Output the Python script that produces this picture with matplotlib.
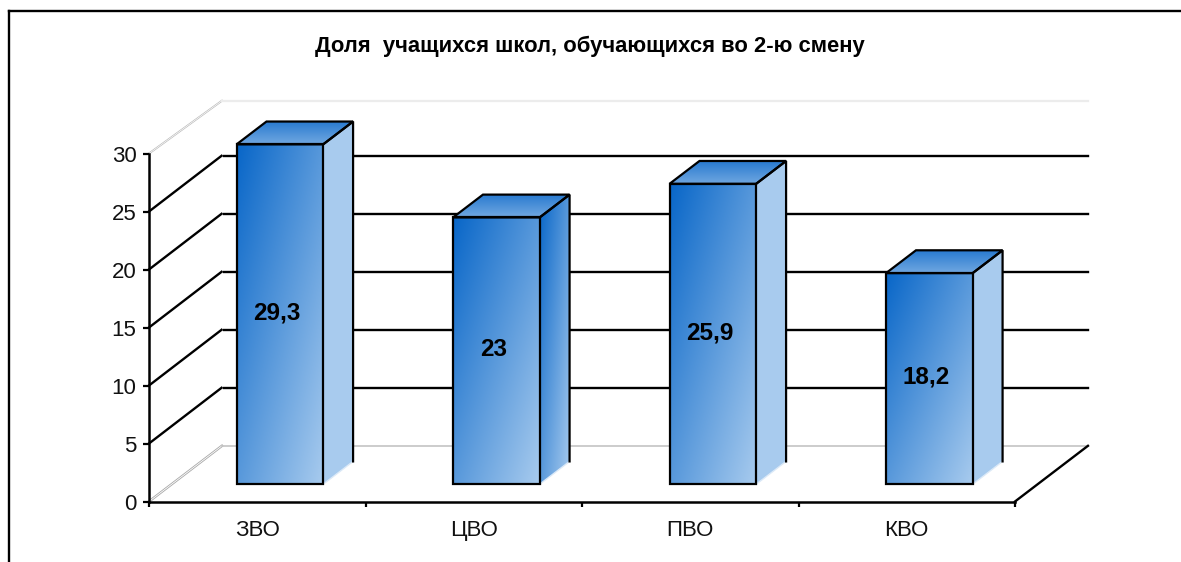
import matplotlib
matplotlib.use("Agg")
import matplotlib.pyplot as plt
import numpy as np
from matplotlib.colors import LinearSegmentedColormap
from matplotlib.lines import Line2D
from matplotlib.patches import Polygon

plt.rcParams["font.family"] = ["Liberation Sans", "DejaVu Sans"]

title = "Доля  учащихся школ, обучающихся во 2-ю смену"
categories = ["ЗВО", "ЦВО", "ПВО", "КВО"]
values = [29.3, 23, 25.9, 18.2]
value_labels = ["29,3", "23", "25,9", "18,2"]
yticks = [0, 5, 10, 15, 20, 25, 30]

# oblique projection: depth 0 is the front plane, depth 1 the back wall
depth_x = 0.337
depth_y = 4.8
bar_d0 = 0.31
bar_d1 = 0.72
bar_x0 = 0.30
bar_x1 = 0.70

blues = LinearSegmentedColormap.from_list("blues", ["#0866c8", "#a8cbee"])
light = "#a8cbee"


def pr(x, y, d):
    return x + d * depth_x, y + d * depth_y


def grad_face(ax, pts, kind, z):
    xs, ys = zip(*pts)
    u, v = np.meshgrid(np.linspace(0, 1, 200), np.linspace(0, 1, 300))
    if kind == "top":
        t = 0.2 + 0.45 * v
    else:
        t = (u + v) / 2
    im = ax.imshow(t, cmap=blues, vmin=0, vmax=1, aspect="auto", zorder=z,
                   extent=(min(xs), max(xs), min(ys), max(ys)), origin="upper",
                   interpolation="bilinear")
    # faces stick out above the axes box, so only the polygon may clip them
    im.set_clip_box(ax.figure.bbox)
    im.set_clip_path(Polygon(pts, closed=True, transform=ax.transData))


W, H = 1181, 562
fig = plt.figure(figsize=(W / 100, H / 100), dpi=100, facecolor="white")
ax = fig.add_axes([149 / W, 1 - 501.5 / H, 866 / W, 348 / H])
ax.patch.set_visible(False)
ax.set_xlim(0, 4)
ax.set_ylim(0, 30)
ax.autoscale(False)

# page frame, open on the right and at the bottom
fig.add_artist(Line2D([9.5 / W, 9.5 / W], [0, 1 - 11 / H], color="black", lw=1.7))
fig.add_artist(Line2D([9.5 / W, 1], [1 - 11 / H, 1 - 11 / H], color="black", lw=1.7))

# walls and gridlines
for v in yticks:
    x0, y0 = pr(0, v, 0)
    x1, y1 = pr(0, v, 1)
    x2, y2 = pr(4, v, 1)
    if v == 0:
        ax.plot([x0, x1], [y0, y1], color="#a8a8a8", lw=1.8, zorder=1, clip_on=False)
        ax.plot([x0, x1], [y0, y1], color="white", lw=0.6, zorder=1, clip_on=False)
        ax.plot([x1, x2], [y1, y2], color="#c4c4c4", lw=1.2, zorder=1, clip_on=False)
    elif v == 30:
        y1 = y2 = y1 - 0.25
        ax.plot([x0, x1], [y0, y1], color="#b8b8b8", lw=1.4, zorder=1, clip_on=False)
        ax.plot([x0, x1], [y0, y1], color="white", lw=0.5, zorder=1, clip_on=False)
        ax.plot([x1, x2], [y1, y2], color="#ececec", lw=1.6, zorder=1, clip_on=False)
    else:
        ax.plot([x0, x1 - 0.002], [y0, y1], color="black", lw=1.7, zorder=1, clip_on=False)
        ax.plot([x1 + 0.008, x2], [y1, y2], color="black", lw=1.7, zorder=1, clip_on=False)

# right floor edge
x0, y0 = pr(4, 0, 0)
x1, y1 = pr(4, 0, 1)
ax.plot([x0, x1], [y0, y1], color="black", lw=1.7, zorder=1, clip_on=False)

# bars
for i, v in enumerate(values):
    z = 2 + i
    a = i + bar_x0
    b = i + bar_x1
    front = [pr(a, 0, bar_d0), pr(b, 0, bar_d0), pr(b, v, bar_d0), pr(a, v, bar_d0)]
    side = [pr(b, 0, bar_d0), pr(b, 0, bar_d1), pr(b, v, bar_d1), pr(b, v, bar_d0)]
    top = [pr(a, v, bar_d0), pr(b, v, bar_d0), pr(b, v, bar_d1), pr(a, v, bar_d1)]

    if categories[i] == "ЦВО":
        grad_face(ax, side, "front", z)
    else:
        ax.add_patch(Polygon(side, closed=True, fc=light, ec="none", zorder=z, clip_on=False))
    grad_face(ax, top, "top", z)
    grad_face(ax, front, "front", z)

    ax.plot(*zip(side[0], side[1]), color="#dbe9f7", lw=1.0, zorder=z, clip_on=False)
    ax.plot(*zip(side[1], side[2], side[3]), color="black", lw=1.6, zorder=z,
            solid_joinstyle="miter", clip_on=False)
    ax.add_patch(Polygon(top, closed=True, fc="none", ec="black", lw=1.6, zorder=z,
                         joinstyle="miter", clip_on=False))
    ax.add_patch(Polygon(front, closed=True, fc="none", ec="black", lw=1.6, zorder=z,
                         joinstyle="miter", clip_on=False))

    cx, cy = pr((a + b) / 2, v / 2, bar_d0)
    ax.annotate(value_labels[i], (cx, cy), xytext=(-2, 1), textcoords="offset points",
                ha="center", va="center", fontsize=17.5, fontweight="bold",
                color="black", zorder=20)

for s in ["top", "right"]:
    ax.spines[s].set_visible(False)
for s in ["left", "bottom"]:
    ax.spines[s].set_linewidth(1.8)
    ax.spines[s].set_zorder(15)

ax.set_yticks(yticks)
ax.set_xticks(range(5))
ax.set_xticklabels([])
ax.set_xticks([i + 0.5 for i in range(4)], minor=True)
ax.set_xticklabels(categories, minor=True)
ax.tick_params(axis="y", length=4, width=1.6, pad=5, labelsize=16, labelcolor="#111111")
ax.tick_params(axis="x", which="major", length=3.5, width=1.6)
ax.tick_params(axis="x", which="minor", length=0, pad=13.5, labelsize=16, labelcolor="#111111")

fig.text(590 / W, 1 - 46.5 / H, title, ha="center", va="center", fontsize=15.8,
         fontweight="bold", color="black")

fig.savefig("out.png", dpi=100, facecolor="white")
